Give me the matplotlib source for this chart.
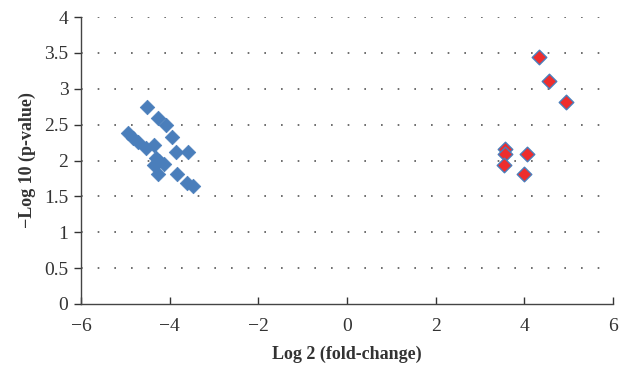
import matplotlib
matplotlib.use("Agg")
import matplotlib.pyplot as plt
from matplotlib.ticker import FuncFormatter

blue_x = [-4.52, -4.26, -4.08, -3.95, -4.93, -4.83, -4.72, -4.53, -4.35, -3.86, -3.58,
          -4.31, -4.23, -4.12, -4.35, -4.27, -3.83, -3.60, -3.48]
blue_y = [2.74, 2.59, 2.49, 2.33, 2.38, 2.32, 2.26, 2.17, 2.21, 2.12, 2.12,
          2.04, 1.99, 1.95, 1.94, 1.81, 1.81, 1.68, 1.65]
red_x = [4.32, 4.55, 4.95, 3.57, 3.56, 3.54, 4.07, 4.00]
red_y = [3.44, 3.11, 2.81, 2.16, 2.09, 1.94, 2.09, 1.81]

xticks = [-6, -4, -2, 0, 2, 4, 6]
yticks = [0, 0.5, 1, 1.5, 2, 2.5, 3, 3.5, 4]

plt.rcParams['font.family'] = ['Liberation Serif', 'DejaVu Serif']

fig = plt.figure(figsize=(6.23, 3.72), dpi=100)
ax = fig.add_axes([0.130, 0.183, 0.854, 0.771])

for y in yticks[1:]:
    ax.axhline(y, color='#555555', linestyle=(0, (1, 9)), linewidth=1.2, zorder=0)

ax.scatter(blue_x, blue_y, marker='D', s=55, color='#4a7ebb', edgecolors='#4a7ebb',
           linewidths=0.5, zorder=3)
ax.scatter(red_x, red_y, marker='D', s=55, color='#ee2d2d', edgecolors='#4a7ebb',
           linewidths=1.0, zorder=4)

ax.set_xlim(-6, 6)
ax.set_ylim(0, 4)
ax.set_xticks(xticks)
ax.set_yticks(yticks)
ax.xaxis.set_major_formatter(FuncFormatter(lambda v, p: f"{v:g}".replace('-', '\u2212')))
ax.yaxis.set_major_formatter(FuncFormatter(lambda v, p: f"{v:g}"))

for s in ['top', 'right']:
    ax.spines[s].set_visible(False)
for s in ['left', 'bottom']:
    ax.spines[s].set_color('#444444')
    ax.spines[s].set_linewidth(1.0)

ax.tick_params(axis='both', labelsize=14, colors='#333333', length=5, width=1.0)
ax.tick_params(axis='x', direction='in', pad=10)
ax.tick_params(axis='y', direction='out', pad=4)

ax.set_xlabel('Log 2 (fold-change)', fontsize=13, fontweight='bold', color='#333333', labelpad=8)
ax.set_ylabel('\u2212Log 10 (p-value)', fontsize=13, fontweight='bold', color='#333333', labelpad=6)

fig.savefig('out.png', dpi=100)
